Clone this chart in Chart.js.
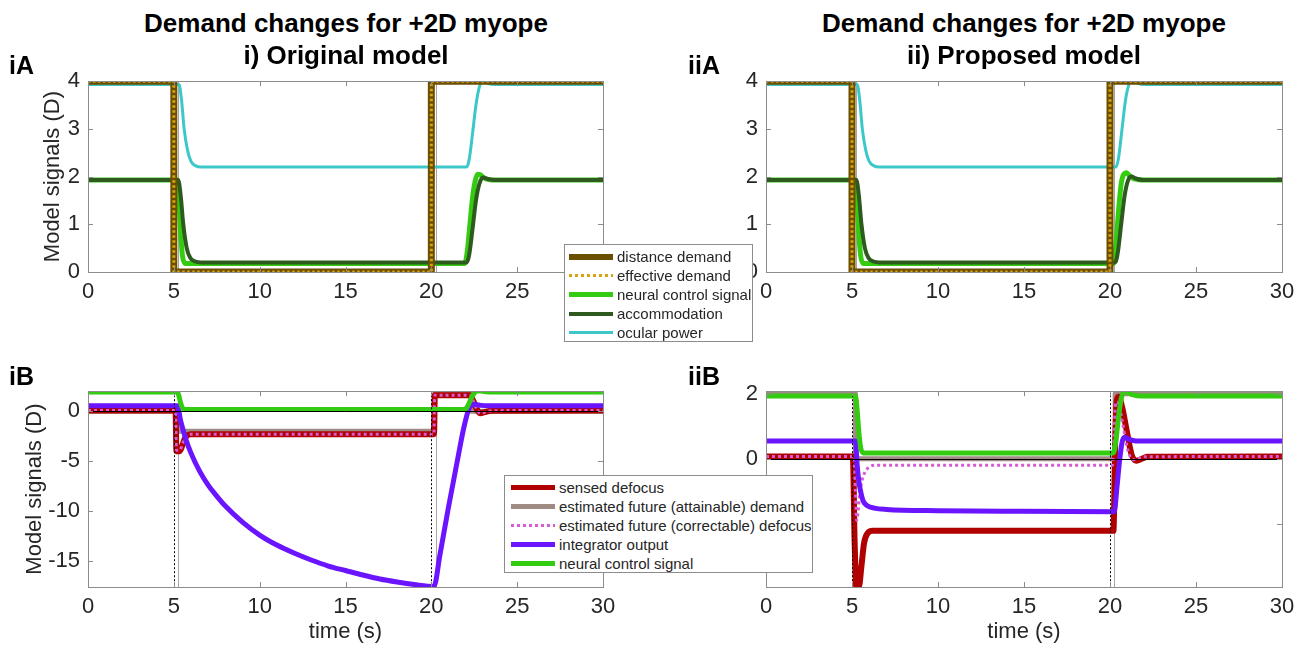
<!DOCTYPE html>
<html>
<head>
<meta charset="utf-8">
<script src="https://cdn.jsdelivr.net/npm/chart.js@4.4.1/dist/chart.umd.min.js"></script>
<style>
  body { margin: 0; width: 1303px; height: 652px; background: #fff; position: relative; overflow: hidden;
         font-family: "Liberation Sans", Arial, sans-serif; color: #000; }
  canvas { position: absolute; }
  .txt { position: absolute; white-space: nowrap; line-height: 1; transform: translate(-50%, -50%); }
  .ttl { font-weight: bold; font-size: 26px; }
  .plab { font-weight: bold; font-size: 25px; transform: translate(0, -50%); }
  .legend { position: absolute; background: #fff; border: 1px solid #8c8c8c; font-size: 15px; color: #262626; }
  .row { position: absolute; left: 0; height: 19px; display: flex; align-items: center; white-space: nowrap; }
</style>
</head>
<body>
<canvas id="cA1" width="630" height="250" style="left:0;top:60px"></canvas>
<canvas id="cA2" width="613" height="250" style="left:690px;top:60px"></canvas>
<canvas id="cB1" width="630" height="282" style="left:0;top:370px"></canvas>
<canvas id="cB2" width="613" height="282" style="left:690px;top:370px"></canvas>

<div class="txt ttl" style="left:346px;top:23px">Demand changes for +2D myope</div>
<div class="txt ttl" style="left:346px;top:55px">i) Original model</div>
<div class="txt ttl" style="left:1024px;top:23px">Demand changes for +2D myope</div>
<div class="txt ttl" style="left:1024px;top:55px">ii) Proposed model</div>
<div class="txt plab" style="left:9px;top:65px">iA</div>
<div class="txt plab" style="left:688px;top:65px">iiA</div>
<div class="txt plab" style="left:9px;top:376px">iB</div>
<div class="txt plab" style="left:688px;top:376px">iiB</div>

<div class="legend" id="legA" style="left:564px;top:244px;width:187px;height:96px"></div>
<div class="legend" id="legB" style="left:504px;top:475px;width:307px;height:96px"></div>

<script>
// ---- data ----
const xTicks = [0, 5, 10, 15, 20, 25, 30];
const eventTimes = [5, 20];       // dashed markers in B panels
const lagTimes = [5.25, 20.25];   // thin grey markers

// A panels
const tDemand = [0, 5, 5, 20, 20, 30];
const distanceDemand = [4, 4, 0, 0, 4, 4];
const effectiveDemand = [4, 4, 0, 0, 4, 4];

const tNeuralOrig = [0, 5.2, 5.3, 5.4, 5.5, 5.65, 21.95, 22.1, 22.25, 22.4, 22.55, 22.7, 22.85, 23.0, 23.2, 23.5, 24, 30];
const neuralOrig = [1.93, 1.93, 1.5, 0.8, 0.35, 0.18, 0.18, 0.45, 1.0, 1.55, 1.9, 2.05, 2.04, 1.99, 1.95, 1.93, 1.93, 1.93];
const tAccomOrig = [0, 5.25, 5.4, 5.55, 5.75, 5.95, 6.25, 6.6, 22.05, 22.2, 22.4, 22.6, 22.8, 23.0, 23.3, 23.7, 30];
const accomOrig = [1.93, 1.93, 1.6, 1.0, 0.5, 0.3, 0.22, 0.2, 0.2, 0.35, 0.9, 1.5, 1.85, 1.98, 1.95, 1.93, 1.93];
const tOcularOrig = [0, 5.3, 5.45, 5.6, 5.8, 6.0, 6.25, 6.6, 22.05, 22.2, 22.4, 22.6, 22.8, 23.0, 23.3, 23.7, 30];
const ocularOrig = [3.93, 3.93, 3.6, 3.0, 2.55, 2.32, 2.23, 2.2, 2.2, 2.35, 2.9, 3.5, 3.88, 4.0, 3.95, 3.93, 3.93];

const tNeuralProp = [0, 5.2, 5.3, 5.4, 5.5, 5.65, 20.2, 20.35, 20.5, 20.65, 20.8, 20.95, 21.1, 21.3, 21.6, 22, 30];
const neuralProp = [1.93, 1.93, 1.5, 0.8, 0.35, 0.18, 0.18, 0.6, 1.3, 1.85, 2.05, 2.08, 2.03, 1.97, 1.94, 1.93, 1.93];
const tAccomProp = [0, 5.25, 5.4, 5.55, 5.75, 5.95, 6.25, 6.6, 20.3, 20.45, 20.65, 20.85, 21.05, 21.25, 21.5, 21.9, 30];
const accomProp = [1.93, 1.93, 1.6, 1.0, 0.5, 0.3, 0.22, 0.2, 0.2, 0.4, 1.0, 1.6, 1.92, 2.0, 1.96, 1.93, 1.93];
const tOcularProp = [0, 5.3, 5.45, 5.6, 5.8, 6.0, 6.25, 6.6, 20.35, 20.5, 20.7, 20.9, 21.1, 21.3, 21.6, 22.0, 30];
const ocularProp = [3.93, 3.93, 3.6, 3.0, 2.55, 2.32, 2.23, 2.2, 2.2, 2.4, 3.0, 3.6, 3.93, 4.02, 3.96, 3.93, 3.93];

// B panels, original model
const tSensedOrig = [0, 5.1, 5.15, 5.35, 5.5, 5.65, 5.8, 6.0, 20.15, 20.2, 22.25, 22.45, 22.65, 22.85, 23.1, 23.5, 30];
const sensedOrig = [0.07, 0.07, -4.0, -4.0, -3.4, -2.7, -2.4, -2.3, -2.3, 1.6, 1.6, 1.0, 0.2, -0.2, -0.1, 0.05, 0.07];
const tAttainOrig = [0, 5.2, 5.2, 20.2, 20.2, 22.35, 22.35, 30];
const attainOrig = [0, 0, -2.0, -2.0, 2.0, 2.0, 0, 0];
const tCorrectOrig = [0, 5.1, 5.15, 5.35, 5.5, 5.65, 5.8, 6.0, 20.15, 20.2, 22.25, 22.45, 22.65, 22.85, 23.1, 23.5, 30];
const correctOrig = [0.07, 0.07, -3.9, -3.9, -3.3, -2.7, -2.4, -2.3, -2.3, 1.6, 1.6, 1.0, 0.2, -0.2, -0.1, 0.05, 0.07];
const tIntegOrig = [0, 5.2, 5.4, 5.7, 6.0, 6.5, 7.0, 7.5, 8.0, 9.0, 10.0, 11.0, 12.0, 13.0, 14.0, 15.0, 16.0, 17.0, 18.0, 19.0, 20.15,
                    20.5, 21.0, 21.5, 21.9, 22.2, 22.5, 22.9, 23.4, 30];
const integOrig = [0.55, 0.55, -1.0, -2.8, -4.2, -6.0, -7.4, -8.5, -9.5, -11.1, -12.4, -13.4, -14.2, -14.9, -15.5, -15.95, -16.4, -16.8, -17.1, -17.35, -17.55,
                   -14.4, -9.6, -5.1, -1.6, 0.3, 0.7, 0.58, 0.55, 0.55];

// B panels, proposed model
const tSensedProp = [0, 5.05, 5.15, 5.25, 5.4, 5.55, 5.7, 5.9, 6.2, 20.2, 20.3, 20.4, 20.5, 20.7, 20.97, 21.26, 21.55, 21.85, 22.2, 30];
const sensedProp = [0.07, 0.07, -2.5, -3.94, -3.94, -3.3, -2.6, -2.3, -2.22, -2.22, 0.5, 1.8, 1.91, 1.6, 0.87, 0.12, -0.06, 0.0, 0.06, 0.07];
const tAttainProp = [0, 5.2, 5.2, 20.3, 20.3, 30];
const attainProp = [2.0, 2.0, 0, 0, 2.0, 2.0];
const tCorrectProp = [0, 5.1, 5.2, 5.27, 5.47, 5.66, 6.05, 6.4, 20.15, 20.25, 20.35, 20.5, 20.7, 20.9, 21.1, 21.35, 21.6, 22.0, 30];
const correctProp = [0.07, 0.07, -1.0, -1.9, -1.0, -0.53, -0.24, -0.2, -0.2, 1.0, 1.75, 1.7, 1.2, 0.6, 0.15, -0.03, 0.0, 0.06, 0.07];
const tIntegProp = [0, 5.2, 5.3, 5.4, 5.5, 5.65, 5.9, 6.3, 7.0, 10.0, 15.0, 20.25, 20.4, 20.55, 20.7, 20.85, 21.1, 21.5, 30];
const integProp = [0.55, 0.55, -0.2, -0.7, -1.0, -1.3, -1.45, -1.52, -1.56, -1.6, -1.62, -1.63, -0.9, -0.1, 0.5, 0.66, 0.6, 0.55, 0.55];

// ---- series styles ----
const namesA = ['distance demand', 'effective demand', 'neural control signal', 'accommodation', 'ocular power'];
const colorsA = ['#6b4f00', '#d9a30f', '#33cc11', '#2f5a1f', '#3cc8c8'];
const widthsA = [7, 3, 5, 4, 3];
const namesB = ['sensed defocus', 'estimated future (attainable) demand', 'estimated future (correctable) defocus', 'integrator output', 'neural control signal'];
const colorsB = ['#b00000', '#a08a84', '#d65cd6', '#6a14ff', '#33cc11'];
const widthsB = [6, 5, 3, 5, 5];

const tickFont = { family: '"Liberation Sans Narrow", "Liberation Sans", Arial, sans-serif', size: 22 };
const labelFont = { family: '"Liberation Sans", Arial, sans-serif', size: 22 };

function pts(t, y) { return t.map((x, i) => ({ x: x, y: y[i] })); }

function line(t, y, color, width, opts) {
  return Object.assign({
    data: pts(t, y), borderColor: color, borderWidth: width, pointRadius: 0,
    fill: false, tension: 0, borderCapStyle: 'butt', borderJoinStyle: 'round'
  }, opts || {});
}
const smooth = { cubicInterpolationMode: 'monotone' };

// box, inward ticks and reference lines, all placed with the chart's own scales
const framePlugin = {
  id: 'frame',
  beforeDatasetsDraw(chart) {
    const { ctx, chartArea: a, scales: { x } } = chart;
    ctx.save();
    ctx.strokeStyle = '#a6a6a6';
    ctx.lineWidth = 1;
    lagTimes.forEach(t => {
      const px = Math.round(x.getPixelForValue(t)) + 0.5;
      ctx.beginPath(); ctx.moveTo(px, a.top); ctx.lineTo(px, a.bottom); ctx.stroke();
    });
    ctx.restore();
  },
  afterDatasetsDraw(chart) {
    const { ctx, chartArea: a, scales: { x, y } } = chart;
    const o = chart.options.plugins.frame || {};
    ctx.save();
    ctx.lineWidth = 1;
    if (o.markers) {
      ctx.strokeStyle = '#000';
      ctx.setLineDash([2, 2]);
      eventTimes.forEach(t => {
        const px = Math.round(x.getPixelForValue(t)) + 0.5;
        ctx.beginPath(); ctx.moveTo(px, a.top); ctx.lineTo(px, a.bottom); ctx.stroke();
      });
      ctx.setLineDash([]);
      const py = Math.round(y.getPixelForValue(0)) + 0.5;
      ctx.beginPath(); ctx.moveTo(a.left, py); ctx.lineTo(a.right, py); ctx.stroke();
    }
    ctx.strokeStyle = '#8c8c8c';
    ctx.strokeRect(Math.round(a.left) + 0.5, Math.round(a.top) + 0.5, Math.round(a.right - a.left), Math.round(a.bottom - a.top));
    const tl = 5;
    x.ticks.forEach(tk => {
      const px = Math.round(x.getPixelForValue(tk.value)) + 0.5;
      ctx.beginPath();
      ctx.moveTo(px, a.bottom); ctx.lineTo(px, a.bottom - tl);
      ctx.moveTo(px, a.top); ctx.lineTo(px, a.top + tl);
      ctx.stroke();
    });
    y.ticks.forEach(tk => {
      const py = Math.round(y.getPixelForValue(tk.value)) + 0.5;
      ctx.beginPath();
      ctx.moveTo(a.left, py); ctx.lineTo(a.left + tl, py);
      ctx.moveTo(a.right, py); ctx.lineTo(a.right - tl, py);
      ctx.stroke();
    });
    ctx.restore();
  }
};

function makePanel(id, datasets, p) {
  new Chart(document.getElementById(id), {
    type: 'line',
    data: { datasets: datasets },
    plugins: [framePlugin],
    options: {
      responsive: false, animation: false, devicePixelRatio: 1,
      layout: { padding: { top: p.top, right: p.right, left: 0, bottom: 0 } },
      plugins: { legend: { display: false }, tooltip: { enabled: false }, frame: { markers: p.markers } },
      scales: {
        x: {
          type: 'linear', min: 0, max: 30,
          afterBuildTicks: s => { s.ticks = xTicks.map(v => ({ value: v })); },
          ticks: { font: tickFont, color: '#262626', padding: 7, maxRotation: 0, autoSkip: false },
          grid: { display: false, drawTicks: false }, border: { display: false },
          title: { display: !!p.xTitle, text: 'time (s)', font: labelFont, color: '#262626', padding: { top: 0, bottom: 7 } },
          afterFit: s => { s.height = p.xh; }
        },
        y: {
          type: 'linear', min: p.ymin, max: p.ymax,
          ticks: { stepSize: p.step, includeBounds: false, font: tickFont, color: '#262626', padding: 8 },
          grid: { display: false, drawTicks: false }, border: { display: false },
          title: { display: !!p.yTitle, text: 'Model signals (D)', font: labelFont, color: '#262626', padding: { top: p.yTitlePad || 0, bottom: 0 } },
          afterFit: s => { s.width = p.yw; }
        }
      }
    }
  });
}

function panelA(id, tN, yN, tAc, yAc, tOc, yOc, p) {
  makePanel(id, [
    line(tN, yN, colorsA[2], widthsA[2], Object.assign({ order: 5 }, smooth)),
    line(tAc, yAc, colorsA[3], widthsA[3], Object.assign({ order: 4 }, smooth)),
    line(tOc, yOc, colorsA[4], widthsA[4], Object.assign({ order: 3 }, smooth)),
    line(tDemand, distanceDemand, colorsA[0], widthsA[0], { order: 2, borderJoinStyle: 'miter' }),
    line(tDemand, effectiveDemand, colorsA[1], widthsA[1], { order: 1, borderDash: [2.5, 2.5] })
  ], p);
}

function panelB(id, s, p) {
  makePanel(id, [
    line(s.tA, s.a, colorsB[1], widthsB[1], { order: 6 }),
    line(s.tS, s.s, colorsB[0], widthsB[0], Object.assign({ order: 5 }, smooth)),
    line(s.tC, s.c, colorsB[2], widthsB[2], Object.assign({ order: 3, borderDash: [3, 3] }, smooth)),
    line(s.tI, s.i, colorsB[3], widthsB[3], Object.assign({ order: 2 }, smooth)),
    line(s.tN, s.n, colorsB[4], widthsB[4], Object.assign({ order: 1 }, smooth))
  ], p);
}

panelA('cA1', tNeuralOrig, neuralOrig, tAccomOrig, accomOrig, tOcularOrig, ocularOrig,
  { top: 12, right: 27, yw: 88, xh: 38, ymin: 0, ymax: 4, step: 1, yTitle: true, yTitlePad: 40 });
panelA('cA2', tNeuralProp, neuralProp, tAccomProp, accomProp, tOcularProp, ocularProp,
  { top: 12, right: 21, yw: 76, xh: 38, ymin: 0, ymax: 4, step: 1 });
panelB('cB1', { tS: tSensedOrig, s: sensedOrig, tA: tAttainOrig, a: attainOrig, tC: tCorrectOrig, c: correctOrig,
                tI: tIntegOrig, i: integOrig, tN: tNeuralOrig, n: neuralOrig },
  { top: 15, right: 27, yw: 88, xh: 65, ymin: -17.6, ymax: 2, step: 5, yTitle: true, yTitlePad: 22, xTitle: true, markers: true });
panelB('cB2', { tS: tSensedProp, s: sensedProp, tA: tAttainProp, a: attainProp, tC: tCorrectProp, c: correctProp,
                tI: tIntegProp, i: integProp, tN: tNeuralProp, n: neuralProp },
  { top: 15, right: 21, yw: 76, xh: 65, ymin: -3.95, ymax: 2.08, step: 2, xTitle: true, markers: true });

// ---- HTML legends built from the series lists ----
function buildLegend(id, names, colors, widths, dotted, sampleLeft, sampleW, textLeft) {
  const box = document.getElementById(id);
  names.forEach((n, i) => {
    const row = document.createElement('div');
    row.className = 'row';
    row.style.top = (2 + i * 19) + 'px';
    const s = document.createElement('div');
    s.style.position = 'absolute';
    s.style.left = sampleLeft + 'px';
    s.style.width = sampleW + 'px';
    s.style.height = widths[i] + 'px';
    s.style.top = (9.5 - widths[i] / 2) + 'px';
    s.style.background = dotted[i]
      ? 'repeating-linear-gradient(90deg,' + colors[i] + ' 0 3px, transparent 3px 6px)'
      : colors[i];
    const t = document.createElement('span');
    t.style.position = 'absolute';
    t.style.left = textLeft + 'px';
    t.textContent = n;
    row.appendChild(s);
    row.appendChild(t);
    box.appendChild(row);
  });
}
buildLegend('legA', namesA, colorsA, [6, 3, 5, 4, 3], [false, true, false, false, false], 4, 44, 52);
buildLegend('legB', namesB, colorsB, [5, 5, 3, 5, 5], [false, false, true, false, false], 6, 44, 54);
</script>
</body>
</html>
